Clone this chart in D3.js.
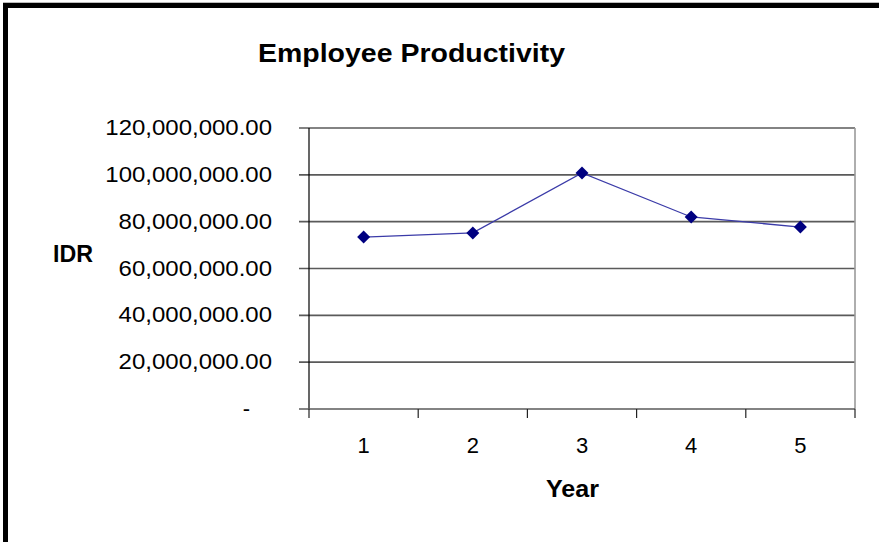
<!DOCTYPE html>
<html>
<head>
<meta charset="utf-8">
<script src="https://cdn.jsdelivr.net/npm/d3@7/dist/d3.min.js"></script>
<style>
html,body{margin:0;padding:0;background:#fff;}
svg{display:block;font-family:"Liberation Sans",Arial,sans-serif;}
</style>
</head>
<body>
<svg id="chart" width="879" height="542"></svg>
<script>
const years = ["1", "2", "3", "4", "5"];
const productivity = [73400000, 75200000, 100800000, 82000000, 77700000];
const yTicks = [0, 20000000, 40000000, 60000000, 80000000, 100000000, 120000000];
const titleText = "Employee Productivity";
const yAxisTitle = "IDR";
const xAxisTitle = "Year";

const svg = d3.select("#chart");
const W = 879, H = 542;
const plot = {left: 309, right: 855, top: 128, bottom: 409};

// outer frame
svg.append("rect").attr("x", 5.5).attr("y", 5.5).attr("width", W + 20).attr("height", H + 20)
  .attr("fill", "none").attr("stroke", "#000").attr("stroke-width", 5);
svg.append("line").attr("x1", 3).attr("x2", W).attr("y1", 2.5).attr("y2", 2.5)
  .attr("stroke", "#bbb").attr("stroke-width", 1);

const x = d3.scaleBand().domain(years).range([plot.left, plot.right]).padding(0);
const y = d3.scaleLinear().domain([0, 120000000]).range([plot.bottom, plot.top]);

// gridlines
svg.append("g").selectAll("line").data(yTicks.filter(d => d > 0)).join("line")
  .attr("x1", plot.left - 10).attr("x2", plot.right)
  .attr("y1", d => y(d)).attr("y2", d => y(d))
  .attr("stroke", "#5a5a5a").attr("stroke-width", 1.6);

// right border
svg.append("line").attr("x1", plot.right).attr("x2", plot.right)
  .attr("y1", plot.top).attr("y2", plot.bottom)
  .attr("stroke", "#9a9a9a").attr("stroke-width", 1.6);

// left axis
svg.append("line").attr("x1", plot.left).attr("x2", plot.left)
  .attr("y1", plot.top).attr("y2", plot.bottom)
  .attr("stroke", "#000").attr("stroke-width", 1.2);

// bottom axis
svg.append("line").attr("x1", plot.left - 10).attr("x2", plot.right)
  .attr("y1", plot.bottom).attr("y2", plot.bottom)
  .attr("stroke", "#5a5a5a").attr("stroke-width", 1.6);
const boundaries = years.map(d => x(d)).concat([x(years[years.length - 1]) + x.bandwidth()]);
svg.append("g").selectAll("line").data(boundaries).join("line")
  .attr("x1", d => d).attr("x2", d => d)
  .attr("y1", plot.bottom).attr("y2", plot.bottom + 9)
  .attr("stroke", "#222").attr("stroke-width", 1.2);

// y tick labels
const fmt = d3.format(",.2f");
const yl = svg.append("g").selectAll("text").data(yTicks).join("text")
  .attr("x", 272).attr("y", d => y(d) + 7)
  .attr("text-anchor", "end")
  .attr("font-size", 22).attr("fill", "#000")
  .text(d => d === 0 ? "-" : fmt(d));
yl.each(function(d) {
  if (d === 0) { d3.select(this).attr("x", 250); return; }
  const l = this.getComputedTextLength();
  d3.select(this).attr("textLength", l * 1.09).attr("lengthAdjust", "spacingAndGlyphs");
});

// x tick labels
svg.append("g").selectAll("text").data(years).join("text")
  .attr("x", d => x(d) + x.bandwidth() / 2).attr("y", 453)
  .attr("text-anchor", "middle").attr("font-size", 22).attr("fill", "#000")
  .text(d => d);

// title
const t = svg.append("text").attr("x", 411.5).attr("y", 62)
  .attr("text-anchor", "middle").attr("font-size", 25).attr("font-weight", "bold")
  .text(titleText);
t.attr("textLength", 307).attr("lengthAdjust", "spacingAndGlyphs");

// axis titles
svg.append("text").attr("x", 53).attr("y", 262)
  .attr("font-size", 23.5).attr("font-weight", "bold")
  .attr("textLength", 40).attr("lengthAdjust", "spacingAndGlyphs").text(yAxisTitle);
svg.append("text").attr("x", 572.5).attr("y", 497)
  .attr("text-anchor", "middle").attr("font-size", 23.5).attr("font-weight", "bold")
  .attr("textLength", 53).attr("lengthAdjust", "spacingAndGlyphs").text(xAxisTitle);

// line
const line = d3.line().x((d, i) => x(years[i]) + x.bandwidth() / 2).y(d => y(d));
svg.append("path").datum(productivity).attr("d", line)
  .attr("fill", "none").attr("stroke", "#3b3ba8").attr("stroke-width", 1.3);

// markers
svg.append("g").selectAll("path").data(productivity).join("path")
  .attr("transform", (d, i) => `translate(${x(years[i]) + x.bandwidth() / 2},${y(d)})`)
  .attr("d", "M0,-6.5 L6.5,0 L0,6.5 L-6.5,0 Z")
  .attr("fill", "#000080");
</script>
</body>
</html>
